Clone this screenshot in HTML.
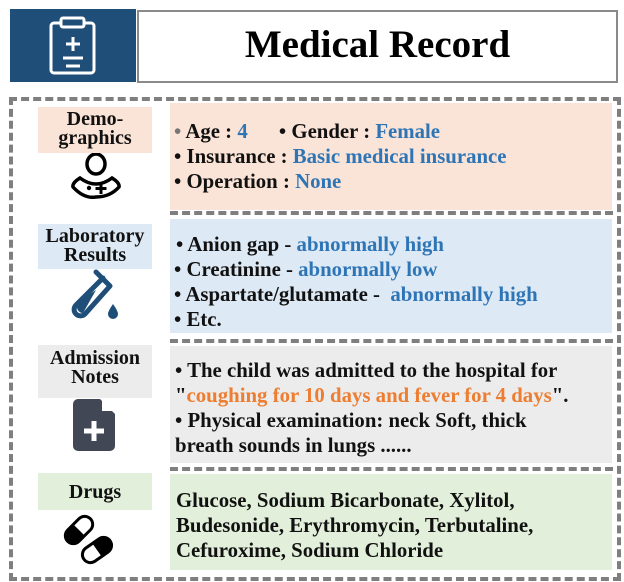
<!DOCTYPE html>
<html><head><style>
body{margin:0;width:624px;height:582px;background:#fff;position:relative;font-family:"Liberation Serif",serif;font-weight:bold;overflow:hidden}
.a{position:absolute}
.t{position:absolute;font-size:20.8px;white-space:nowrap;color:#111;line-height:25px}
.b{color:#2e75b6}.o{color:#ed7d31}.g{color:#777}
.lab{position:absolute;left:38px;width:114px;text-align:center;font-size:20px;line-height:19px;color:#111;white-space:nowrap}
.sep{position:absolute;left:170px;width:443px;height:0;border-top:4px dashed #7f7f7f}
</style></head><body>
<div class="a" style="left:10px;top:9px;width:126px;height:73px;background:#1f4e79"></div>
<svg class="a" style="left:48px;top:16px" width="50" height="60" viewBox="0 0 50 60">
<rect x="3" y="7" width="43" height="50" rx="3" fill="none" stroke="#fff" stroke-width="3"/>
<rect x="13" y="2" width="23" height="9" rx="2" fill="#1f4e79" stroke="#fff" stroke-width="3"/>
<path d="M25 21v14M18 28h14M15 42h20M18 50h14" stroke="#fff" stroke-width="3"/>
</svg>
<div class="a" style="left:137px;top:10px;width:477px;height:69px;border:2px solid #8a8a8a;background:#fff"></div>
<div class="a" style="left:137px;top:22px;width:481px;text-align:center;font-size:39px;line-height:46px;color:#000">Medical Record</div>
<div class="a" style="left:9px;top:97px;width:604px;height:476px;border:4px dashed #7f7f7f"></div>

<div class="a" style="left:170px;top:103px;width:442px;height:107px;background:#fae3d7"></div>
<div class="a" style="left:170px;top:219px;width:442px;height:114px;background:#dde9f5"></div>
<div class="a" style="left:170px;top:346px;width:442px;height:117px;background:#ececec"></div>
<div class="a" style="left:170px;top:474px;width:442px;height:96px;background:#e2efda"></div>
<div class="sep" style="top:211px"></div>
<div class="sep" style="top:339px"></div>
<div class="sep" style="top:467px"></div>

<div class="lab" style="top:107px;height:43px;background:#fae3d7;padding-top:3px">Demo-<br>graphics</div>
<div class="lab" style="top:224px;height:42px;background:#dde9f5;padding-top:3px">Laboratory<br>Results</div>
<div class="lab" style="top:345px;height:49px;background:#ececec;padding-top:4px">Admission<br>Notes</div>
<div class="lab" style="top:473px;height:37px;background:#e2efda;line-height:38px">Drugs</div>

<svg class="a" style="left:70px;top:153px" width="52" height="46" viewBox="0 0 52 46">
<ellipse cx="26" cy="11" rx="9" ry="10" fill="none" stroke="#000" stroke-width="3.5"/>
<path d="M10 25 Q2 30 3 34 Q14 46 26 44 Q40 44 49 34 Q50 30 42 25 Q34 31 26 31 Q18 31 10 25Z" fill="none" stroke="#000" stroke-width="3.5"/>
<circle cx="19" cy="35" r="2.2"/><path d="M31 30v11M25.5 35.5h11" stroke="#000" stroke-width="3"/>
</svg>
<svg class="a" style="left:66px;top:268px" width="54" height="56" viewBox="0 0 54 56">
<path d="M30 4l14 14M37 10L10 37a6 6 0 0 0 9 9L44 18" fill="none" stroke="#1f4e79" stroke-width="5" stroke-linecap="round"/>
<path d="M15 32L30 22 L17 45a6 6 0 0 1-6-6z" fill="#1f4e79"/>
<path d="M47 36q-5 7-5 10a5 5 0 0 0 10 0q0-3-5-10z" fill="#1f4e79"/>
</svg>
<svg class="a" style="left:72px;top:398px" width="44" height="54" viewBox="0 0 44 54">
<path d="M6 1h22l15 15v32a5 5 0 0 1-5 5H6a5 5 0 0 1-5-5V6a5 5 0 0 1 5-5z" fill="#414754"/>
<path d="M30 1v12h12" fill="#fff"/>
<path d="M22 23v20M12 33h20" stroke="#fff" stroke-width="5"/>
</svg>
<svg class="a" style="left:62px;top:513px" width="54" height="52" viewBox="0 0 54 52">
<g transform="rotate(-45 17 17)"><rect x="1" y="9" width="32" height="16" rx="8" fill="none" stroke="#000" stroke-width="3"/><path d="M9 9h8v16H9a8 8 0 0 1 0-16z"/></g>
<g transform="rotate(-35 35 37)"><rect x="19" y="29" width="32" height="16" rx="8" fill="none" stroke="#000" stroke-width="3"/><path d="M35 29h8a8 8 0 0 1 0 16h-8z"/></g>
</svg>

<div class="t" style="left:174px;top:119px"><span class="g">•</span> Age : <span class="b">4</span>&nbsp;&nbsp;&nbsp;&nbsp;&nbsp;&nbsp;• Gender : <span class="b">Female</span></div>
<div class="t" style="left:174px;top:144px">• Insurance : <span class="b">Basic medical insurance</span></div>
<div class="t" style="left:174px;top:169px">• Operation : <span class="b">None</span></div>

<div class="t" style="left:176px;top:232px">• Anion gap - <span class="b">abnormally high</span></div>
<div class="t" style="left:174px;top:257px">• Creatinine - <span class="b">abnormally low</span></div>
<div class="t" style="left:174px;top:282px">• Aspartate/glutamate -&nbsp; <span class="b">abnormally high</span></div>
<div class="t" style="left:174px;top:307px">• Etc.</div>

<div class="t" style="left:175px;top:358px">• The child was admitted to the hospital for</div>
<div class="t" style="left:175px;top:383px">"<span class="o">coughing for 10 days and fever for 4 days</span>".</div>
<div class="t" style="left:175px;top:408px">• Physical examination: neck Soft, thick</div>
<div class="t" style="left:175px;top:433px">breath sounds in lungs ......</div>

<div class="t" style="left:176px;top:488px">Glucose, Sodium Bicarbonate, Xylitol,</div>
<div class="t" style="left:176px;top:513px">Budesonide, Erythromycin, Terbutaline,</div>
<div class="t" style="left:176px;top:538px">Cefuroxime, Sodium Chloride</div>
</body></html>
